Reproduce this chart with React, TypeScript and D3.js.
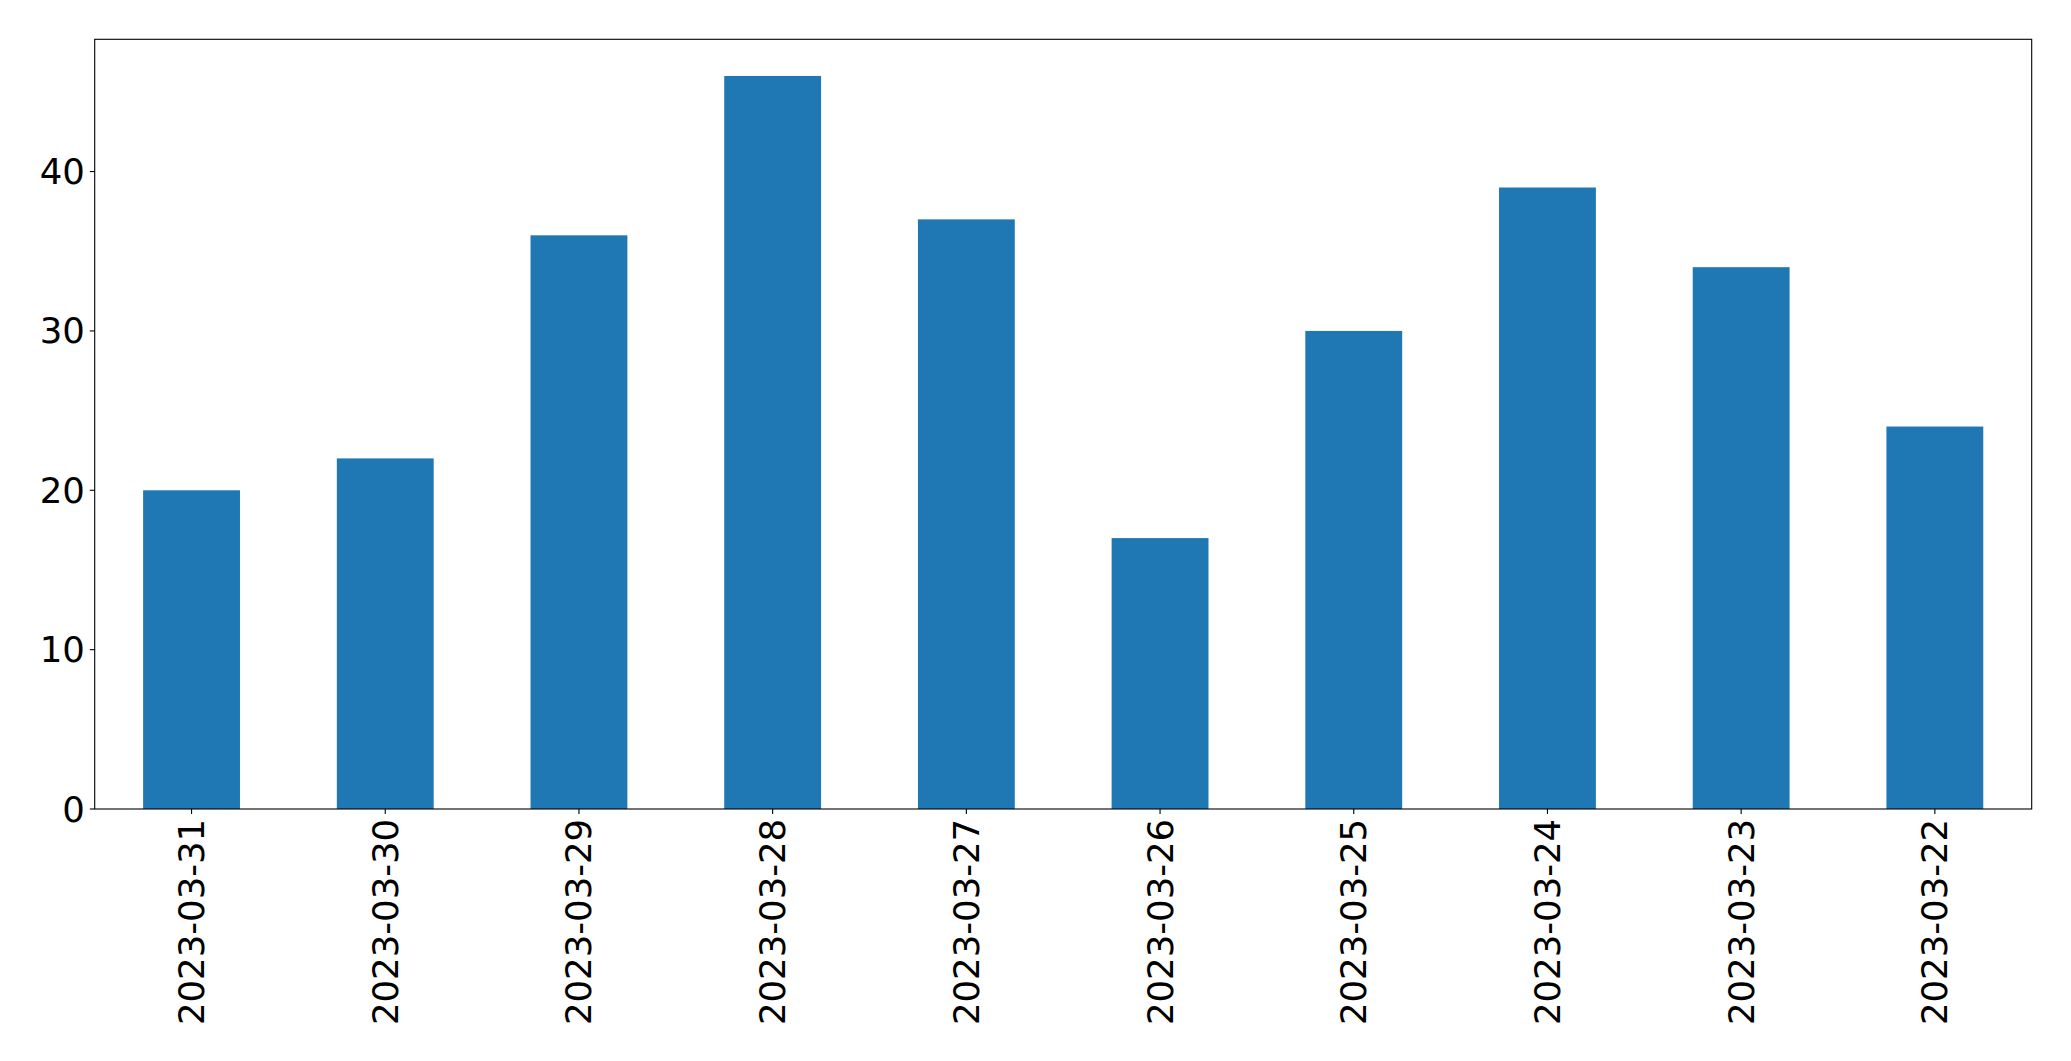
import React from "react";
import * as d3 from "d3";

const categories = ["2023-03-31","2023-03-30","2023-03-29","2023-03-28","2023-03-27","2023-03-26","2023-03-25","2023-03-24","2023-03-23","2023-03-22"];
const values = [20, 22, 36, 46, 37, 17, 30, 39, 34, 24];
const yTicks = [0, 10, 20, 30, 40];

const W = 2071, H = 1061;
const left = 94.7, right = 2031.7, top = 39.3, bottom = 809;
const FONT = "DejaVu Sans, sans-serif";
const FS = 35.5;

export default function App() {
  const x = d3.scaleLinear().domain([-0.5, categories.length - 0.5]).range([left, right]);
  const ymax = d3.max(values)! * 1.05;
  const y = d3.scaleLinear().domain([0, ymax]).range([bottom, top]);
  const bw = x(0.25) - x(-0.25);
  return (
    <svg width={W} height={H} style={{ position: "absolute", left: 0, top: 0, background: "#fff" }}>
      <rect x={0} y={0} width={W} height={H} fill="#fff" />
      {values.map((v, i) => (
        <rect key={i} x={x(i) - bw / 2} y={y(v)} width={bw} height={y(0) - y(v)} fill="#1f77b4" />
      ))}
      <rect x={left} y={top} width={right - left} height={bottom - top} fill="none" stroke="#000" strokeWidth={1.1} />
      {yTicks.map((t) => (
        <g key={t}>
          <line x1={left - 4.9} x2={left} y1={y(t)} y2={y(t)} stroke="#000" strokeWidth={1.1} />
          <text x={left - 9.8} y={y(t)} textAnchor="end" dominantBaseline="central" fontFamily={FONT} fontSize={FS} fill="#000">{t}</text>
        </g>
      ))}
      {categories.map((c, i) => (
        <g key={c}>
          <line x1={x(i)} x2={x(i)} y1={bottom} y2={bottom + 4.9} stroke="#000" strokeWidth={1.1} />
          <text transform={`translate(${x(i)},${bottom + 9.8}) rotate(-90)`} textAnchor="end" dominantBaseline="central" fontFamily={FONT} fontSize={FS} fill="#000">{c}</text>
        </g>
      ))}
    </svg>
  );
}
